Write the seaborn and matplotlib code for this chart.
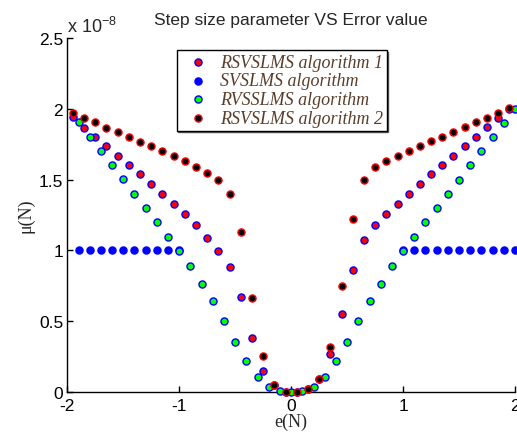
import numpy as np
import pandas as pd
import matplotlib
matplotlib.use("Agg")
import matplotlib.pyplot as plt
import seaborn as sns

# === DONNEES (unite : 1e-8) ===
x_grid_a = [-1.95, -1.85, -1.75, -1.65, -1.55, -1.45, -1.35, -1.25, -1.15, -1.05,
            -0.95, -0.85, -0.75, -0.65, -0.55, -0.45, -0.35, -0.25, -0.15, -0.05,
            0.05, 0.15, 0.25, 0.35, 0.45, 0.55, 0.65, 0.75, 0.85, 0.95,
            1.05, 1.15, 1.25, 1.35, 1.45, 1.55, 1.65, 1.75, 1.85, 1.95]
x_grid_b = [-1.9, -1.8, -1.7, -1.6, -1.5, -1.4, -1.3, -1.2, -1.1, -1.0,
            -0.9, -0.8, -0.7, -0.6, -0.5, -0.4, -0.3, -0.2, -0.1, 0.0,
            0.1, 0.2, 0.3, 0.4, 0.5, 0.6, 0.7, 0.8, 0.9, 1.0,
            1.1, 1.2, 1.3, 1.4, 1.5, 1.6, 1.7, 1.8, 1.9, 2.0]

rsvslms_1 = [1.939, 1.866, 1.802, 1.736, 1.665, 1.602, 1.536, 1.467, 1.401, 1.330,
             1.260, 1.177, 1.090, 0.998, 0.880, 0.674, 0.384, 0.146, 0.050, 0.002,
             0.002, 0.020, 0.090, 0.267, 0.554, 0.863, 1.071, 1.177, 1.260, 1.330,
             1.399, 1.465, 1.536, 1.602, 1.668, 1.736, 1.802, 1.868, 1.937, 2.000]
rsvslms_2 = [1.967, 1.937, 1.904, 1.866, 1.833, 1.802, 1.767, 1.736, 1.703, 1.665,
             1.628, 1.590, 1.548, 1.496, 1.401, 1.130, 0.667, 0.255, 0.050, 0.002,
             0.002, 0.021, 0.092, 0.316, 0.750, 1.222, 1.498, 1.590, 1.628, 1.665,
             1.703, 1.736, 1.771, 1.802, 1.835, 1.868, 1.906, 1.937, 1.972, 2.003]
rvsslms = [1.904, 1.802, 1.703, 1.602, 1.502, 1.401, 1.302, 1.200, 1.097, 0.996,
           0.887, 0.764, 0.639, 0.500, 0.354, 0.219, 0.108, 0.033, 0.004, 0.000,
           0.004, 0.033, 0.108, 0.219, 0.354, 0.500, 0.639, 0.764, 0.887, 0.996,
           1.097, 1.200, 1.300, 1.400, 1.500, 1.600, 1.700, 1.800, 1.900, 2.000]
x_svslms = [-1.9, -1.8, -1.7, -1.6, -1.5, -1.4, -1.3, -1.2, -1.1, -1.0,
            1.0, 1.1, 1.2, 1.3, 1.4, 1.5, 1.6, 1.7, 1.8, 1.9, 2.0]
svslms = [1.0] * len(x_svslms)

x_ticks = [-2, -1, 0, 1, 2]
y_ticks = [0, 0.5, 1, 1.5, 2, 2.5]
y_tick_labels = ["0", "0.5", "1", "1.5", "2", "2.5"]

# === STYLE ===
sns.set_style("ticks")
plt.rcParams["font.family"] = ["Liberation Sans", "DejaVu Sans"]
plt.rcParams["axes.unicode_minus"] = False
plt.rcParams["mathtext.default"] = "regular"

fig = plt.figure(figsize=(5.17, 4.35), dpi=100)
ax = fig.add_axes([0.1302, 0.0966, 0.866, 0.814])

series = [
    ("RSVSLMS algorithm 1", x_grid_a, rsvslms_1, "#ff0000", "#0000ff"),
    ("SVSLMS algorithm", x_svslms, svslms, "#0000ff", "#0000ff"),
    ("RVSSLMS algorithm", x_grid_b, rvsslms, "#00ff00", "#0000ff"),
    ("RSVSLMS algorithm 2", x_grid_a, rsvslms_2, "#000000", "#ff0000"),
]
for i, (nom, xs, ys, face, edge) in enumerate(series):
    sns.scatterplot(x=xs, y=ys, color=face, edgecolor=edge, s=26, linewidth=1.0,
                    label=nom, ax=ax, zorder=3 + i, clip_on=False)

ax.set_xlim(-2, 2)
ax.set_ylim(0, 2.5)
ax.set_xticks(x_ticks)
ax.set_xticklabels([str(t) for t in x_ticks])
ax.set_yticks(y_ticks)
ax.set_yticklabels(y_tick_labels)
ax.tick_params(direction="in", length=4, width=1, labelsize=12.5, pad=3, colors="black")
ax.tick_params(axis="x", pad=4)
sns.despine(ax=ax)
for s in ["left", "bottom"]:
    ax.spines[s].set_linewidth(1)
    ax.spines[s].set_color("black")

ax.set_title("Step size parameter VS Error value", fontsize=12.5, pad=10)
ax.set_xlabel("e(N)", fontsize=13, family="Liberation Serif", labelpad=0)
ax.set_ylabel("\u03bc(N)", fontsize=13, family="Liberation Serif", labelpad=3)
ax.text(0.0, 1.017, "x 10$^{-8}$", transform=ax.transAxes, fontsize=13, ha="left", va="baseline")

leg = ax.legend(loc="upper left", bbox_to_anchor=(0.244, 0.966), borderaxespad=0,
                prop={"family": "Liberation Serif", "style": "italic", "size": 13},
                frameon=True, fancybox=False, edgecolor="black", framealpha=1,
                borderpad=0.2, labelspacing=0.1, handlelength=2.0, handletextpad=0.2,
                shadow={"ox": 1.2, "oy": -1.2, "color": "0.35", "alpha": 1})
leg.get_frame().set_linewidth(1)
for t in leg.get_texts():
    t.set_color("#5a3e2b")

fig.savefig("out.png", dpi=100)
